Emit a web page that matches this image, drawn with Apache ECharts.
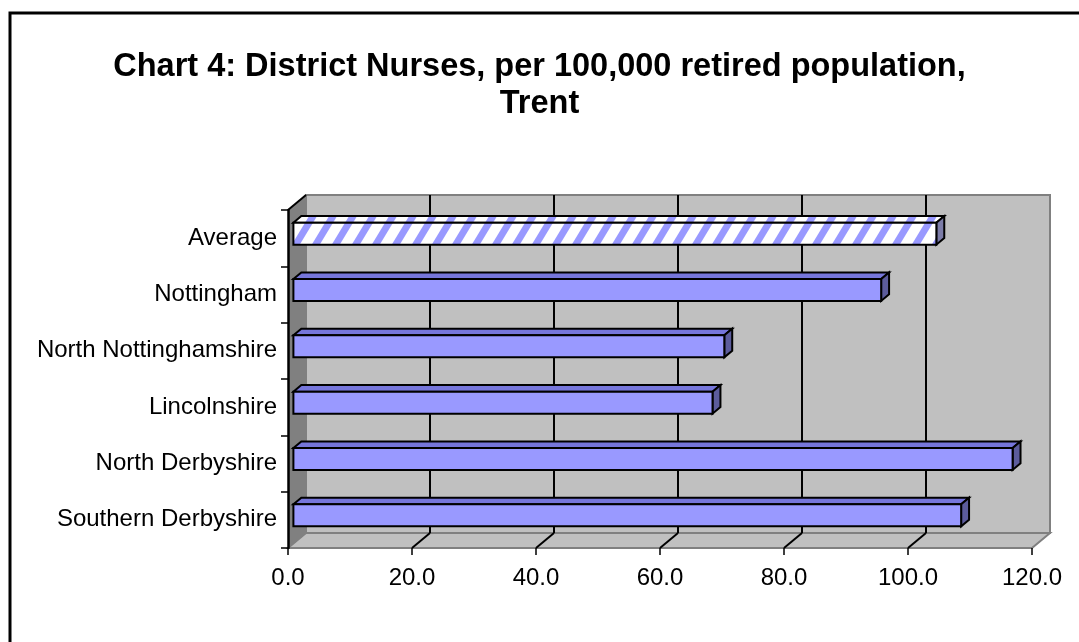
<!DOCTYPE html>
<html>
<head>
<meta charset="utf-8">
<title>Chart 4: District Nurses</title>
<script src="https://cdn.jsdelivr.net/npm/echarts@6/dist/echarts.min.js"></script>
<style>
  html, body { margin: 0; padding: 0; background: #fff; }
  #main { width: 1079px; height: 642px; }
</style>
</head>
<body>
<div id="main"></div>
<script>
// data, bottom to top (category axis starts at the bottom)
const categories = ['Southern Derbyshire', 'North Derbyshire', 'Lincolnshire',
                    'North Nottinghamshire', 'Nottingham', 'Average'];
const values = [107.7, 116.0, 67.6, 69.5, 94.8, 103.7];
const xTicks = [0, 20, 40, 60, 80, 100, 120];
const averageName = 'Average';

const FONT = '"Liberation Sans", Arial, sans-serif';
// depth of the fake 3D box (front plane -> back wall), in px
const DX = 18, DY = -15;

// white + lilac "wide upward diagonal" fill for the average bar
function stripePattern() {
    const c = document.createElement('canvas');
    c.width = 20; c.height = 33;
    const g = c.getContext('2d');
    g.fillStyle = '#ffffff';
    g.fillRect(0, 0, 20, 33);
    g.fillStyle = '#9999FF';
    [-20, 0, 20].forEach(function (o) {
        g.beginPath();
        g.moveTo(o, 33); g.lineTo(o + 8, 33);
        g.lineTo(o + 28, 0); g.lineTo(o + 20, 0);
        g.closePath(); g.fill();
    });
    return { image: c, repeat: 'repeat' };
}
const stripes = stripePattern();

// walls, floor and gridlines
function renderWalls(params, api) {
    const cs = params.coordSys;
    const top = cs.y, bot = cs.y + cs.height;
    const x0 = api.coord([xTicks[0], 0])[0];
    const x1 = api.coord([xTicks[xTicks.length - 1], 0])[0];
    const kids = [
        { type: 'rect', shape: { x: x0 + DX, y: top + DY, width: x1 - x0, height: bot - top },
          style: { fill: '#C0C0C0', stroke: '#808080', lineWidth: 2 } },
        { type: 'polygon', shape: { points: [[x0, bot], [x1, bot], [x1 + DX, bot + DY], [x0 + DX, bot + DY]] },
          style: { fill: '#C0C0C0', stroke: '#808080', lineWidth: 2 } },
        { type: 'polygon', shape: { points: [[x0, top], [x0 + DX, top + DY], [x0 + DX, bot + DY], [x0, bot]] },
          style: { fill: '#808080' } },
        { type: 'line', shape: { x1: x0, y1: top, x2: x0 + DX, y2: top + DY },
          style: { stroke: '#000', lineWidth: 2 } }
    ];
    xTicks.slice(1, -1).forEach(function (t) {
        const x = api.coord([t, 0])[0];
        kids.push({ type: 'line', shape: { x1: x + DX, y1: top + DY, x2: x + DX, y2: bot + DY },
                    style: { stroke: '#000', lineWidth: 2 } });
        kids.push({ type: 'line', shape: { x1: x, y1: bot, x2: x + DX, y2: bot + DY },
                    style: { stroke: '#000', lineWidth: 2 } });
    });
    return { type: 'group', children: kids };
}

// one 3D bar: top face, right face, front face
function renderBar(params, api) {
    const v = api.value(0), i = api.value(1);
    const c0 = api.coord([0, i]);
    const c1 = api.coord([v, i]);
    const band = api.size([0, 1])[1];
    const h = band * 0.39;
    const fx = DX * 0.3, fy = DY * 0.3;     // front face sits a bit behind the front plane
    const bx = DX * 0.44, by = DY * 0.44;   // bar depth
    const xl = c0[0] + fx, xr = c1[0] + fx;
    const yt = c0[1] + fy - h / 2, yb = yt + h;
    const isAvg = categories[i] === averageName;
    const line = { stroke: '#000', lineWidth: 2, lineJoin: 'miter' };
    return {
        type: 'group',
        children: [
            { type: 'polygon', shape: { points: [[xl, yt], [xr, yt], [xr + bx, yt + by], [xl + bx, yt + by]] },
              style: Object.assign({ fill: isAvg ? stripes : '#7676DB' }, line) },
            { type: 'polygon', shape: { points: [[xr, yt], [xr + bx, yt + by], [xr + bx, yb + by], [xr, yb]] },
              style: Object.assign({ fill: isAvg ? '#7C7CA8' : '#5C5C9C' }, line) },
            { type: 'rect', shape: { x: xl, y: yt, width: xr - xl, height: h },
              style: Object.assign({ fill: isAvg ? stripes : '#9999FF' }, line) }
        ]
    };
}

var myChart = echarts.init(document.getElementById('main'));

var option = {
    backgroundColor: '#ffffff',
    animation: false,
    title: {
        text: 'Chart 4: District Nurses, per 100,000 retired population,\nTrent',
        left: 'center',
        top: 44,
        textStyle: { fontFamily: FONT, fontSize: 32.5, fontWeight: 'bold', color: '#000', lineHeight: 37 }
    },
    graphic: [{
        type: 'rect',
        shape: { x: 10, y: 13, width: 1100, height: 700 },
        style: { fill: 'none', stroke: '#000', lineWidth: 3 },
        silent: true
    }],
    grid: { left: 288, top: 210, width: 744, height: 338 },
    xAxis: {
        type: 'value',
        min: 0, max: 120, interval: 20,
        axisLine: { show: false },
        axisTick: { show: true, length: 7, lineStyle: { color: '#000', width: 1.5 } },
        splitLine: { show: false },
        axisLabel: {
            margin: 18,
            fontFamily: FONT, fontSize: 24, color: '#000',
            formatter: function (v) { return v.toFixed(1); }
        }
    },
    yAxis: {
        type: 'category',
        data: categories,
        axisLine: { show: true, lineStyle: { color: '#000', width: 2.5 } },
        axisTick: { show: true, length: 7, interval: 0, lineStyle: { color: '#000', width: 1.5 } },
        axisLabel: { margin: 11, fontFamily: FONT, fontSize: 24, color: '#000' }
    },
    series: [
        {
            type: 'custom',
            name: 'walls',
            z: -1,
            silent: true,
            renderItem: renderWalls,
            data: [[0, 0]]
        },
        {
            type: 'custom',
            name: 'District Nurses',
            z: 3,
            renderItem: renderBar,
            data: values.map(function (v, i) { return [v, i]; })
        }
    ]
};

myChart.setOption(option);

window.addEventListener('resize', function () {
    myChart.resize();
});
</script>
</body>
</html>
